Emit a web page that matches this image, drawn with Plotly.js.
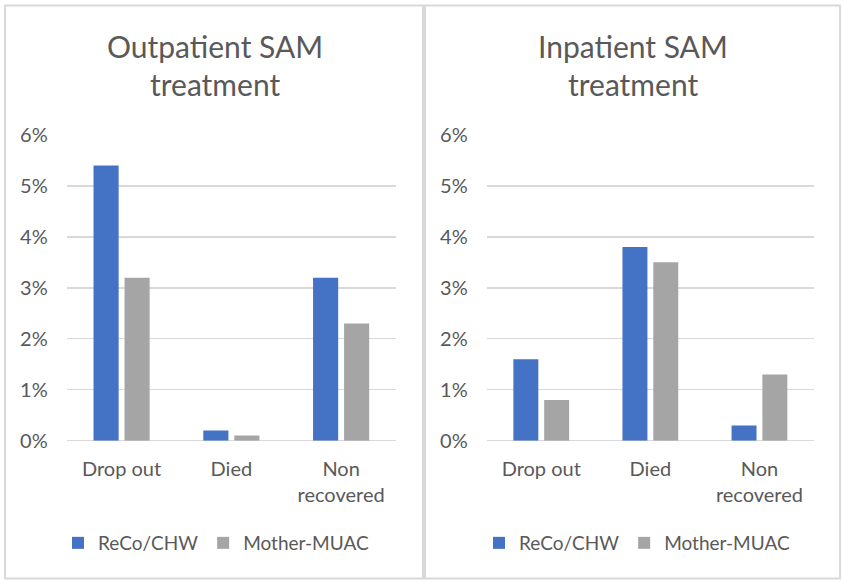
<!DOCTYPE html>
<html>
<head>
<meta charset="utf-8">
<script src="https://cdn.plot.ly/plotly-3.0.1.min.js"></script>
<style>html,body{margin:0;padding:0;background:#fff;}#chart{width:843px;height:582px;}</style>
</head>
<body>
<div id="chart"></div>
<script>
// ---- data ----
const categories = ['Drop out', 'Died', 'Non<br>recovered'];
const seriesNames = ['ReCo/CHW', 'Mother-MUAC'];
const outpatientReCo = [5.4, 0.2, 3.2];
const outpatientMother = [3.2, 0.1, 2.3];
const inpatientReCo = [1.6, 3.8, 0.3];
const inpatientMother = [0.8, 3.5, 1.3];
const panelTitles = [['Outpatient SAM', 'treatment'], ['Inpatient SAM', 'treatment']];
const yTickVals = [0, 1, 2, 3, 4, 5, 6];
const yTickText = ['0%', '1%', '2%', '3%', '4%', '5%', '6%'];

// ---- style ----
const W = 843, H = 582;
const px = x => x / W;
const py = y => 1 - y / H;
const FONT = 'Lato, "Open Sans", sans-serif';
const TXT = '#595959';
const GRID = '#d9d9d9';
const BLUE = '#4472C4';
const GREY = '#A5A5A5';

function bar(x, y, name, color, xa, ya, legend, show) {
  return {type: 'bar', x: x, y: y, name: name, marker: {color: color},
    xaxis: xa, yaxis: ya, legend: legend, showlegend: show, hoverinfo: 'skip'};
}

const data = [
  bar(categories, outpatientReCo, seriesNames[0], BLUE, 'x', 'y', 'legend', true),
  bar(categories, outpatientMother, seriesNames[1], GREY, 'x', 'y', 'legend', true),
  bar(categories, inpatientReCo, seriesNames[0], BLUE, 'x2', 'y2', 'legend2', true),
  bar(categories, inpatientMother, seriesNames[1], GREY, 'x2', 'y2', 'legend2', true)
];

function xaxis(domain, anchor) {
  return {domain: domain, anchor: anchor, showgrid: false, zeroline: false, showline: false,
    ticks: '', tickfont: {family: FONT, size: 20, color: TXT}, ticklabelstandoff: 14,
    fixedrange: true};
}
function yaxis(domain, anchor) {
  return {domain: domain, anchor: anchor, range: [0, 6], tickvals: yTickVals, ticktext: yTickText,
    showgrid: true, gridcolor: GRID, gridwidth: 1.3, zeroline: true, zerolinecolor: GRID,
    zerolinewidth: 1.3, showline: false, ticks: '',
    tickfont: {family: FONT, size: 20, color: TXT}, ticklabelstandoff: 18, fixedrange: true};
}

function legendBox(xLeft) {
  return {orientation: 'h', x: px(xLeft), y: py(543), xanchor: 'left', yanchor: 'middle',
    font: {family: FONT, size: 19, color: TXT}, itemwidth: 30,
    bgcolor: 'rgba(0,0,0,0)', itemclick: false, itemdoubleclick: false};
}

const yDom = [py(440.7), py(135)];
const titleFont = {family: FONT, size: 30, color: TXT};
function title(text, x, y) {
  return {text: text, x: px(x), y: py(y), xref: 'paper', yref: 'paper', showarrow: false,
    xanchor: 'center', yanchor: 'middle', font: titleFont};
}

const layout = {
  width: W, height: H,
  margin: {l: 0, r: 0, t: 0, b: 0},
  paper_bgcolor: '#ffffff', plot_bgcolor: '#ffffff',
  barmode: 'group', bargap: 0.435, bargroupgap: 0.19,
  font: {family: FONT, color: TXT},
  xaxis: xaxis([px(66.7), px(396)], 'y'),
  yaxis: yaxis(yDom, 'x'),
  xaxis2: xaxis([px(486.7), px(814)], 'y2'),
  yaxis2: yaxis(yDom, 'x2'),
  legend: legendBox(58),
  legend2: legendBox(479),
  annotations: [
    title(panelTitles[0][0], 214.5, 46),
    title(panelTitles[0][1], 214.5, 84),
    title(panelTitles[1][0], 632.5, 46),
    title(panelTitles[1][1], 632.5, 84)
  ],
  shapes: [
    {type: 'rect', xref: 'paper', yref: 'paper', x0: px(5), x1: px(423), y0: py(578.5), y1: py(5.5),
      line: {color: GRID, width: 2}, fillcolor: 'rgba(0,0,0,0)', layer: 'below'},
    {type: 'rect', xref: 'paper', yref: 'paper', x0: px(425), x1: px(840), y0: py(578.5), y1: py(5.5),
      line: {color: GRID, width: 2}, fillcolor: 'rgba(0,0,0,0)', layer: 'below'}
  ]
};

Plotly.newPlot('chart', data, layout, {displayModeBar: false, staticPlot: true});
</script>
</body>
</html>
